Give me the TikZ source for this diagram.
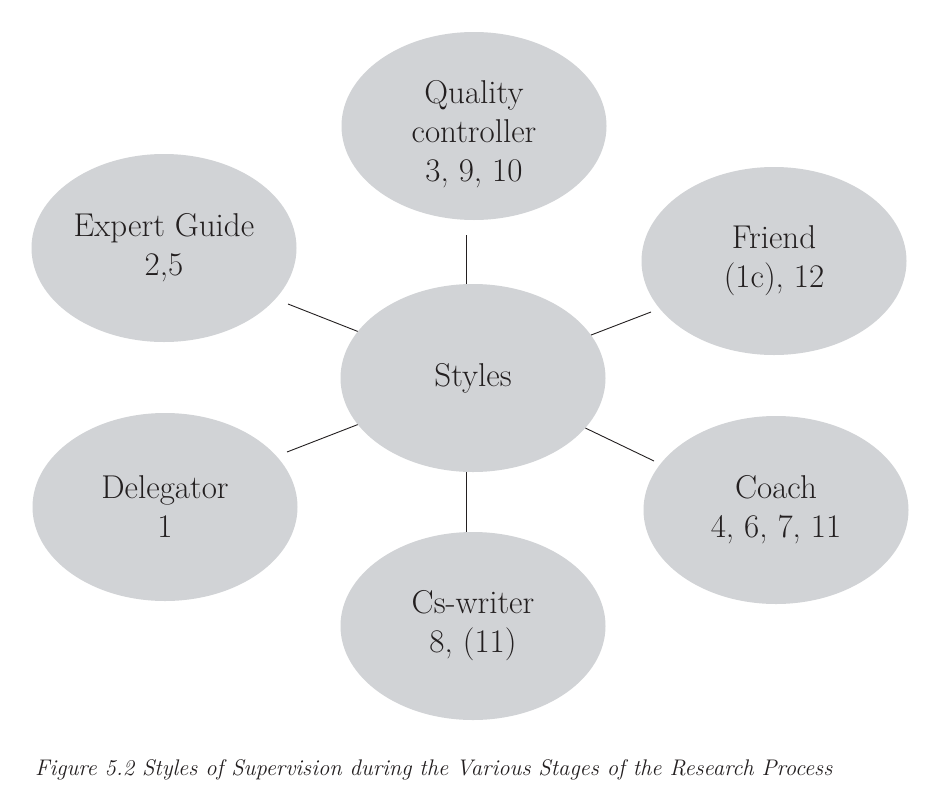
\documentclass[tikz,border=0pt]{standalone}
\usepackage{fontspec}
\usetikzlibrary{shapes.geometric}
\definecolor{bubble}{RGB}{209,211,214}
\definecolor{ink}{RGB}{35,31,32}
\tikzset{
  bubble/.style={ellipse, fill=bubble, minimum width=265pt, minimum height=188pt,
    inner sep=0pt, align=center, text=ink, font=\fontsize{33}{39}\selectfont},
  link/.style={draw=ink, line width=0.9pt}
}
\begin{document}
\begin{tikzpicture}[x=1pt,y=-1pt]
\useasboundingbox[fill=white] (0,0) rectangle (931,803);
\node[bubble] (S) at (473,378) {Styles};
\node[bubble] (Q) at (474,126) {\strut\hspace{0pt}};
\node[align=center, text=ink, font=\fontsize{33}{39}\selectfont, inner sep=0pt] (Qt) at (474,134) {Quality\\controller\\3, 9, 10};
\node[bubble] (E) at (164,248) {Expert Guide\\2,5};
\node[bubble] (F) at (774,261) {Friend\\(1c), 12};
\node[bubble] (D) at (165,507) {Delegator\\1};
\node[bubble] (C) at (776,510) {Coach\\4, 6, 7, 11};
\node[bubble] (W) at (473,626) {Cs-writer\\8, (11)};
\coordinate (qEnd) at (466,235);
\coordinate (eEnd) at (288,304);
\coordinate (fEnd) at (651,312);
\coordinate (dEnd) at (287,452);
\coordinate (cEnd) at (654,461);
\draw[link] (S.north -| qEnd) -- (qEnd);
\draw[link] (S.south -| qEnd) -- (W.north -| qEnd);
\draw[link] (S.158) -- (eEnd);
\draw[link] (S.20) -- (fEnd);
\draw[link] (S.202) -- (dEnd);
\draw[link] (S.336) -- (cEnd);
\node[anchor=base west, text=ink, inner sep=0pt, font=\fontsize{22.6}{26}\selectfont\itshape] (cap) at (35,775)
  {Figure 5.2 Styles of Supervision during the Various Stages of the Research Process};
\end{tikzpicture}
\end{document}
